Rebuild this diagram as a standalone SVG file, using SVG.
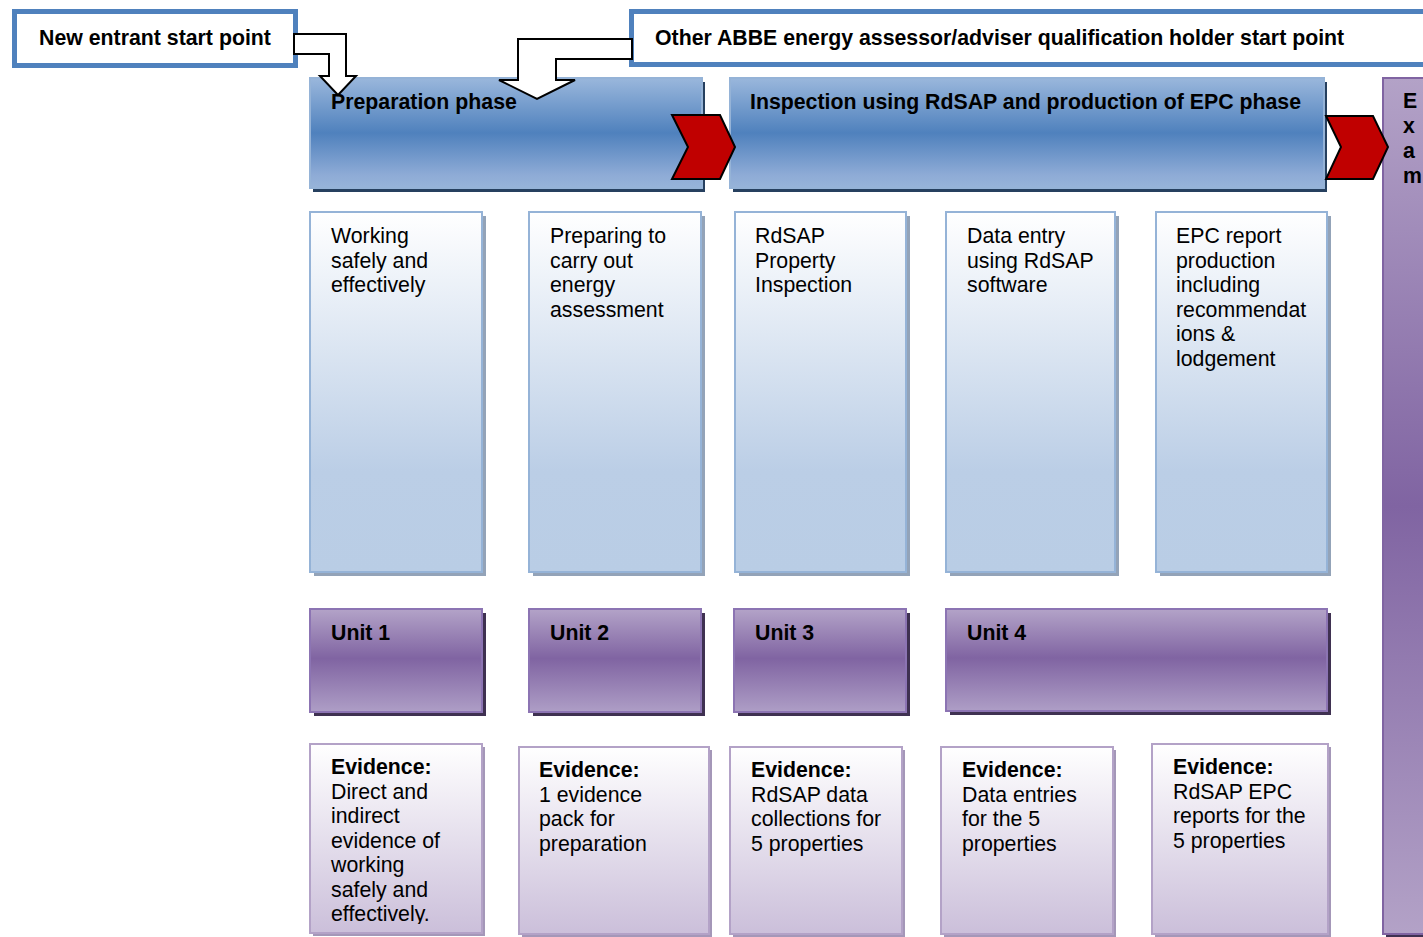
<svg xmlns="http://www.w3.org/2000/svg" width="1423" height="937" viewBox="0 0 1423 937">
  <defs>
    <linearGradient id="gPhase" x1="0" y1="0" x2="0" y2="1">
      <stop offset="0" stop-color="#9AB7DC"/>
      <stop offset="0.5" stop-color="#4F81BD"/>
      <stop offset="0.88" stop-color="#8EABD6"/>
      <stop offset="1" stop-color="#97B4D9"/>
    </linearGradient>
    <linearGradient id="gDesc" x1="0" y1="0" x2="0" y2="1">
      <stop offset="0" stop-color="#FFFFFF"/>
      <stop offset="0.72" stop-color="#BBCEE6"/>
      <stop offset="1" stop-color="#B9CDE5"/>
    </linearGradient>
    <linearGradient id="gUnit" x1="0" y1="0" x2="0" y2="1">
      <stop offset="0" stop-color="#B3A3C8"/>
      <stop offset="0.48" stop-color="#8064A2"/>
      <stop offset="1" stop-color="#AE9EC6"/>
    </linearGradient>
    <linearGradient id="gEvid" x1="0" y1="0" x2="0" y2="1">
      <stop offset="0" stop-color="#FFFFFF"/>
      <stop offset="1" stop-color="#CBBFDA"/>
    </linearGradient>
    <linearGradient id="gExam" x1="0" y1="0" x2="0" y2="1">
      <stop offset="0" stop-color="#B3A2C7"/>
      <stop offset="0.5" stop-color="#8064A2"/>
      <stop offset="1" stop-color="#B3A2C7"/>
    </linearGradient>
    <clipPath id="clipEv1">
      <rect x="310" y="744" width="172" height="180"/>
    </clipPath>
    <style>
      text { font-family: "Liberation Sans", Arial, sans-serif; font-size: 21.3px; fill: #000; }
      .b { font-weight: bold; }
      .start { fill: #FFFFFF; stroke: #4F81BD; stroke-width: 5; }
      .phase { fill: url(#gPhase); stroke: #95B3D7; stroke-width: 2; }
      .phaseSh { fill: #26405F; }
      .desc { fill: url(#gDesc); stroke: #95B3D7; stroke-width: 2; }
      .descSh { fill: #93A3B8; }
      .unit { fill: url(#gUnit); stroke: #8C74B3; stroke-width: 2; }
      .unitSh { fill: #3F3151; }
      .evid { fill: url(#gEvid); stroke: #B3A2C7; stroke-width: 2; }
      .evidSh { fill: #A497B8; }
      .exam { fill: url(#gExam); stroke: #8064A2; stroke-width: 2; }
      .hollow { fill: #FFFFFF; stroke: #000000; stroke-width: 2; stroke-linejoin: miter; }
      .chev { fill: #C00000; stroke: #000000; stroke-width: 2; stroke-linejoin: miter; }
    </style>
  </defs>

  <rect x="0" y="0" width="1423" height="937" fill="#FFFFFF"/>

  <!-- entry points -->
  <g id="start-new">
    <rect class="start" x="14.5" y="11.5" width="281" height="54"/>
    <text class="b" x="39" y="45">New entrant start point</text>
  </g>
  <g id="start-other">
    <rect class="start" x="631.5" y="11.5" width="820" height="53"/>
    <text class="b" x="655" y="45">Other ABBE energy assessor/adviser qualification holder start point</text>
  </g>

  <!-- phases -->
  <g id="phase-prep">
    <rect class="phaseSh" x="313" y="82" width="392" height="110"/>
    <rect class="phase" x="310" y="78" width="392" height="110"/>
    <text class="b" x="331" y="109">Preparation phase</text>
  </g>
  <g id="phase-inspection">
    <rect class="phaseSh" x="733" y="82" width="594" height="110"/>
    <rect class="phase" x="730" y="78" width="594" height="110"/>
    <text class="b" x="750" y="109">Inspection using RdSAP and production of EPC phase</text>
  </g>
  <g id="exam">
    <rect class="unitSh" x="1386" y="82" width="100" height="856"/>
    <rect class="exam" x="1383" y="78" width="100" height="856"/>
    <text class="b" x="1403" y="108">E</text>
    <text class="b" x="1403" y="133">x</text>
    <text class="b" x="1403" y="158">a</text>
    <text class="b" x="1403" y="183">m</text>
  </g>

  <!-- topic descriptions -->
  <g id="desc-1">
    <rect class="descSh" x="314" y="216" width="172" height="360"/>
    <rect class="desc" x="310" y="212" width="172" height="360"/>
    <text x="331" y="243">Working</text>
    <text x="331" y="267.5">safely and</text>
    <text x="331" y="292">effectively</text>
  </g>
  <g id="desc-2">
    <rect class="descSh" x="533" y="216" width="172" height="360"/>
    <rect class="desc" x="529" y="212" width="172" height="360"/>
    <text x="550" y="243">Preparing to</text>
    <text x="550" y="267.5">carry out</text>
    <text x="550" y="292">energy</text>
    <text x="550" y="316.5">assessment</text>
  </g>
  <g id="desc-3">
    <rect class="descSh" x="739" y="216" width="171" height="360"/>
    <rect class="desc" x="735" y="212" width="171" height="360"/>
    <text x="755" y="243">RdSAP</text>
    <text x="755" y="267.5">Property</text>
    <text x="755" y="292">Inspection</text>
  </g>
  <g id="desc-4">
    <rect class="descSh" x="950" y="216" width="169" height="360"/>
    <rect class="desc" x="946" y="212" width="169" height="360"/>
    <text x="967" y="243">Data entry</text>
    <text x="967" y="267.5">using RdSAP</text>
    <text x="967" y="292">software</text>
  </g>
  <g id="desc-5">
    <rect class="descSh" x="1160" y="216" width="171" height="360"/>
    <rect class="desc" x="1156" y="212" width="171" height="360"/>
    <text x="1176" y="243">EPC report</text>
    <text x="1176" y="267.5">production</text>
    <text x="1176" y="292">including</text>
    <text x="1176" y="316.5">recommendat</text>
    <text x="1176" y="341">ions &amp;</text>
    <text x="1176" y="365.5">lodgement</text>
  </g>

  <!-- units -->
  <g id="unit-1">
    <rect class="unitSh" x="314" y="613" width="172" height="103"/>
    <rect class="unit" x="310" y="609" width="172" height="103"/>
    <text class="b" x="331" y="640">Unit 1</text>
  </g>
  <g id="unit-2">
    <rect class="unitSh" x="533" y="613" width="172" height="103"/>
    <rect class="unit" x="529" y="609" width="172" height="103"/>
    <text class="b" x="550" y="640">Unit 2</text>
  </g>
  <g id="unit-3">
    <rect class="unitSh" x="738" y="613" width="172" height="103"/>
    <rect class="unit" x="734" y="609" width="172" height="103"/>
    <text class="b" x="755" y="640">Unit 3</text>
  </g>
  <g id="unit-4">
    <rect class="unitSh" x="950" y="613" width="381" height="102"/>
    <rect class="unit" x="946" y="609" width="381" height="102"/>
    <text class="b" x="967" y="640">Unit 4</text>
  </g>

  <!-- evidence -->
  <g id="evidence-1">
    <rect class="evidSh" x="313" y="747" width="172" height="189"/>
    <rect class="evid" x="310" y="744" width="172" height="189"/>
    <g clip-path="url(#clipEv1)">
      <text class="b" x="331" y="774">Evidence:</text>
      <text x="331" y="798.5">Direct and</text>
      <text x="331" y="823">indirect</text>
      <text x="331" y="847.5">evidence of</text>
      <text x="331" y="872">working</text>
      <text x="331" y="896.5">safely and</text>
      <text x="331" y="921">effectively.</text>
    </g>
  </g>
  <g id="evidence-2">
    <rect class="evidSh" x="522" y="750" width="190" height="187"/>
    <rect class="evid" x="519" y="747" width="190" height="187"/>
    <text class="b" x="539" y="777">Evidence:</text>
    <text x="539" y="801.5">1 evidence</text>
    <text x="539" y="826">pack for</text>
    <text x="539" y="850.5">preparation</text>
  </g>
  <g id="evidence-3">
    <rect class="evidSh" x="733" y="750" width="172" height="187"/>
    <rect class="evid" x="730" y="747" width="172" height="187"/>
    <text class="b" x="751" y="777">Evidence:</text>
    <text x="751" y="801.5">RdSAP data</text>
    <text x="751" y="826">collections for</text>
    <text x="751" y="850.5">5 properties</text>
  </g>
  <g id="evidence-4">
    <rect class="evidSh" x="944" y="750" width="172" height="187"/>
    <rect class="evid" x="941" y="747" width="172" height="187"/>
    <text class="b" x="962" y="777">Evidence:</text>
    <text x="962" y="801.5">Data entries</text>
    <text x="962" y="826">for the 5</text>
    <text x="962" y="850.5">properties</text>
  </g>
  <g id="evidence-5">
    <rect class="evidSh" x="1155" y="747" width="176" height="190"/>
    <rect class="evid" x="1152" y="744" width="176" height="190"/>
    <text class="b" x="1173" y="774">Evidence:</text>
    <text x="1173" y="798.5">RdSAP EPC</text>
    <text x="1173" y="823">reports for the</text>
    <text x="1173" y="847.5">5 properties</text>
  </g>

  <!-- connectors: entry arrows and phase chevrons -->
  <g id="connectors">
    <polygon class="hollow" points="294,34 346,34 346,76 356,76 338,95 320,76 329,76 329,54 294,54"/>
    <polygon class="hollow" points="632,39 518,39 518,80 499,80 537,99 575,80 556,80 556,59 632,59"/>
    <polygon class="chev" points="672,115 720,115 735,147 720,179 672,179 688,147"/>
    <polygon class="chev" points="1326,116 1373,116 1388,147 1373,179 1326,179 1341,147"/>
  </g>
</svg>
